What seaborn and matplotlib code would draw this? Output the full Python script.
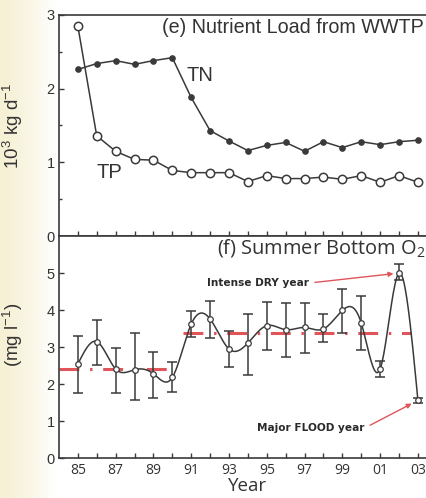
import numpy as np
import pandas as pd
import matplotlib
matplotlib.use("Agg")
import matplotlib.pyplot as plt
import seaborn as sns

# ---- data ----
years = list(range(1985, 2004))
tn = [2.26, 2.34, 2.38, 2.33, 2.38, 2.42, 1.88, 1.43, 1.29, 1.16, 1.23, 1.27, 1.15, 1.28, 1.20, 1.28, 1.24, 1.28, 1.30]
tp = [2.85, 1.36, 1.15, 1.04, 1.03, 0.89, 0.86, 0.86, 0.86, 0.74, 0.82, 0.78, 0.78, 0.80, 0.77, 0.82, 0.73, 0.82, 0.73]

do_mean = [2.54, 3.15, 2.41, 2.39, 2.28, 2.18, 3.62, 3.76, 2.95, 3.11, 3.58, 3.47, 3.53, 3.49, 3.99, 3.65, 2.41, 5.00, 1.56]
do_hi = [3.31, 3.74, 2.97, 3.38, 2.86, 2.59, 3.98, 4.25, 3.44, 3.89, 4.23, 4.19, 4.19, 3.89, 4.58, 4.37, 2.63, 5.24, 1.62]
do_lo = [1.77, 2.53, 1.76, 1.58, 1.62, 1.78, 3.27, 3.24, 2.45, 2.25, 2.91, 2.73, 2.84, 3.14, 3.38, 2.91, 2.18, 4.82, 1.50]

period_start = [1984.0, 1990.55]
period_end = [1990.05, 2002.65]
period_mean = [2.40, 3.38]

xtick_labels = ["85", "", "87", "", "89", "", "91", "", "93", "", "95", "", "97", "", "99", "", "01", "", "03"]

load = pd.DataFrame({"Year": years, "TN": tn, "TP": tp})

dark = "#3a3a3a"
red = "#e0555a"

sns.set_theme(style="ticks")
plt.rcParams["font.family"] = ["Liberation Sans", "DejaVu Sans"]
plt.rcParams["mathtext.default"] = "regular"


def smooth(x, y, n=400):
    # natural cubic spline through the points, only to draw the smooth line
    x = np.asarray(x, float)
    y = np.asarray(y, float)
    k = len(x)
    h = np.diff(x)
    A = np.zeros((k, k))
    b = np.zeros(k)
    A[0, 0] = A[-1, -1] = 1
    for i in range(1, k - 1):
        A[i, i - 1] = h[i - 1]
        A[i, i] = 2 * (h[i - 1] + h[i])
        A[i, i + 1] = h[i]
        b[i] = 6 * ((y[i + 1] - y[i]) / h[i] - (y[i] - y[i - 1]) / h[i - 1])
    m = np.linalg.solve(A, b)
    xs = np.linspace(x[0], x[-1], n)
    idx = np.clip(np.searchsorted(x, xs) - 1, 0, k - 2)
    t = xs - x[idx]
    hi = h[idx]
    a = y[idx]
    bb = (y[idx + 1] - y[idx]) / hi - hi * (2 * m[idx] + m[idx + 1]) / 6
    c = m[idx] / 2
    d = (m[idx + 1] - m[idx]) / (6 * hi)
    return xs, a + bb * t + c * t ** 2 + d * t ** 3


fig = plt.figure(figsize=(4.27, 4.98), dpi=100)

# pale scanned paper tint on the left edge
bg = fig.add_axes([0, 0, 0.13, 1], zorder=-10)
g = np.linspace(0, 1, 100) ** 1.4
tint = np.array([246, 240, 212]) / 255
img = tint[None, :] * (1 - g[:, None]) + g[:, None]
bg.imshow(img[None, :, :], aspect="auto", extent=[0, 1, 0, 1])
bg.axis("off")

ax1 = fig.add_axes([0.138, 0.526, 0.885, 0.444])
ax2 = fig.add_axes([0.138, 0.080, 0.885, 0.446])

# ---- (e) nutrient load ----
sns.lineplot(data=load, x="Year", y="TN", ax=ax1, color=dark, lw=1.1,
             marker="o", markersize=4, markerfacecolor=dark, markeredgecolor=dark)
sns.lineplot(data=load, x="Year", y="TP", ax=ax1, color=dark, lw=1.1,
             marker="o", markersize=6, markerfacecolor="white",
             markeredgecolor=dark, markeredgewidth=1.1)
ax1.set_xlim(1984, 2004)
ax1.set_ylim(0, 3)
ax1.set_yticks([0, 1, 2, 3])
ax1.set_yticks([0.5, 1.5, 2.5], minor=True)
ax1.set_xticks(years)
ax1.set_xticklabels([])
ax1.set_xlabel("")
ax1.set_ylabel("10$^3$ kg d$^{-1}$", fontsize=13.5, color="#333333")
ax1.yaxis.set_label_coords(-0.09, 0.5)
ax1.text(0.272, 0.941, "(e) Nutrient Load from WWTP", transform=ax1.transAxes,
         fontsize=14.2, color="#333333", va="center", ha="left")
ax1.text(1990.75, 2.18, "TN", fontsize=14.5, color="#333333", va="center")
ax1.text(1986.0, 0.86, "TP", fontsize=14.5, color="#333333", va="center")

# ---- (f) summer bottom oxygen ----
mean = np.array(do_mean)
err = [mean - np.array(do_lo), np.array(do_hi) - mean]
for x0, x1, v in zip(period_start, period_end, period_mean):
    ax2.plot([x0, x1], [v, v], color=red, lw=2.2, dashes=(6.5, 3.5, 0.8, 3.5),
             solid_capstyle="butt", zorder=1)
xs, ys = smooth(years, do_mean)
ax2.plot(xs, ys, color=dark, lw=1.1, zorder=2)
ax2.errorbar(years, do_mean, yerr=err, fmt="none", ecolor=dark, elinewidth=1.1,
             capsize=3.5, capthick=1.1, zorder=3)
sns.scatterplot(x=years, y=do_mean, ax=ax2, s=16, facecolor="white",
                edgecolor=dark, linewidth=0.9, zorder=4)
ax2.set_xlim(1984, 2004)
ax2.set_ylim(0, 6)
ax2.set_yticks([0, 1, 2, 3, 4, 5])
ax2.set_xticks(years)
ax2.set_xticklabels(xtick_labels, fontsize=10, family=["Open Sans", "DejaVu Sans"])
ax2.set_xlabel("Year", fontsize=13.5, color="#333333", family=["Open Sans", "DejaVu Sans"],
               labelpad=-1)
ax2.set_ylabel("(mg l$^{-1}$)", fontsize=13.5, color="#333333")
ax2.yaxis.set_label_coords(-0.09, 0.554)
fig.text(0.997, 1 - 248 / 498, "(f) Summer Bottom O$_2$",
         fontsize=14.4, color="#333333", va="center", ha="right",
         family=["Open Sans", "DejaVu Sans"])

ax2.annotate("Intense DRY year", xy=(2002, 5.0), xytext=(1991.83, 4.73),
             fontsize=7.6, fontweight="bold", color="#2a2a2a", va="center", ha="left",
             family=["DejaVu Sans"],
             arrowprops=dict(arrowstyle="-|>", color=red, lw=1.0, mutation_scale=7,
                             shrinkA=2, shrinkB=4, relpos=(1, 0.5)))
ax2.annotate("Major FLOOD year", xy=(2003, 1.56), xytext=(1994.48, 0.81),
             fontsize=7.6, fontweight="bold", color="#2a2a2a", va="center", ha="left",
             family=["DejaVu Sans"],
             arrowprops=dict(arrowstyle="-|>", color=red, lw=1.0, mutation_scale=7,
                             shrinkA=2, shrinkB=5, relpos=(1, 0.5)))

for ax in (ax1, ax2):
    for s in ax.spines.values():
        s.set_color(dark)
        s.set_linewidth(1.2)
    ax.tick_params(axis="both", which="major", direction="in", length=3.5, width=1,
                   color=dark, labelcolor="#333333")
    ax.tick_params(axis="both", which="minor", direction="in", length=2.5, width=1,
                   color=dark)
    ax.tick_params(axis="y", labelsize=10.5, pad=3)
    ax.grid(False)

fig.savefig("out.png", dpi=100)
